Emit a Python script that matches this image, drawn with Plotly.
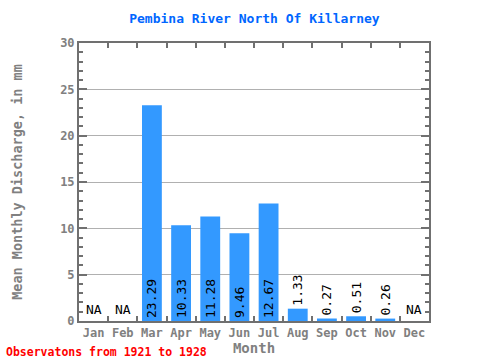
import plotly.graph_objects as go

months = ["Jan", "Feb", "Mar", "Apr", "May", "Jun", "Jul", "Aug", "Sep", "Oct", "Nov", "Dec"]
values = [None, None, 23.29, 10.33, 11.28, 9.46, 12.67, 1.33, 0.27, 0.51, 0.26, None]

FONT = "DejaVu Sans Mono"
GREY = "#808080"

labels = ["" if v is None else f"{v:.2f}" for v in values]
positions = ["inside" if (v is not None and v > 5) else "outside" for v in values]

fig = go.Figure()
fig.add_trace(go.Bar(
    x=months, y=values,
    marker=dict(color="#3399FF", line=dict(width=0)),
    text=labels, textposition=positions, textangle=-90,
    insidetextanchor="start", constraintext="none", cliponaxis=False,
    textfont=dict(family=FONT, size=13, color="black"),
    width=0.68,
))

for m, v in zip(months, values):
    if v is None:
        fig.add_annotation(x=m, y=0, text="NA", showarrow=False, yanchor="bottom",
                           yshift=2, font=dict(family=FONT, size=13, color="black"))

fig.add_annotation(xref="paper", yref="paper", x=-0.214, y=-0.08, xanchor="left", yanchor="top",
                   text="<b>Observatons from 1921 to 1928</b>", showarrow=False,
                   font=dict(family=FONT, size=11.5, color="red"))

fig.update_layout(
    width=480, height=360,
    margin=dict(l=79, r=51, t=43, b=39, autoexpand=False),
    plot_bgcolor="white", paper_bgcolor="white",
    showlegend=False,
    title=dict(text="<b>Pembina River North Of Killarney</b>", x=0.53, xanchor="center",
               y=0.95, yanchor="middle",
               font=dict(family=FONT, size=13, color="#0066FF")),
    bargap=0.3,
)
fig.update_xaxes(
    type="category", tickson="boundaries", ticks="inside", ticklen=5, tickwidth=2, tickcolor="#707070",
    showline=True, linewidth=2, linecolor="#707070", mirror="ticks", tickangle=0, automargin=False,
    tickfont=dict(family=FONT, size=12, color=GREY, weight="bold"),
    title=dict(text="<b>Month</b>", font=dict(family=FONT, size=14, color=GREY), standoff=0),
    showgrid=False,
)
fig.update_yaxes(
    range=[0, 30], dtick=5, ticks="inside", ticklen=8, tickwidth=2, tickcolor="#707070",
    showline=True, linewidth=2, linecolor="#707070", mirror="ticks", automargin=False,
    showgrid=True, gridcolor="#B0B0B0", gridwidth=1,
    minor=dict(dtick=1, ticks="inside", ticklen=4, tickwidth=2, tickcolor="#707070", showgrid=False),
    tickfont=dict(family=FONT, size=12, color=GREY, weight="bold"),
    title=dict(text="<b>Mean Monthly Discharge, in mm</b>", font=dict(family=FONT, size=13.5, color=GREY), standoff=34),
    zeroline=False,
)

fig.write_html("out.html", config={"displayModeBar": False},
               post_script="document.body.style.margin='0px';document.body.style.overflow='hidden';")
